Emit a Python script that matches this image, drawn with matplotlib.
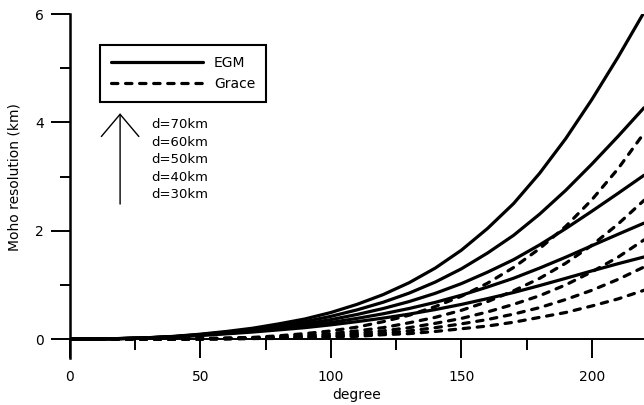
import numpy as np
import matplotlib
matplotlib.use('Agg')
import matplotlib.pyplot as plt

plt.rcParams['font.family'] = ['DejaVu Sans']

# spherical harmonic degree (x axis)
degree = [0, 10, 20, 30, 40, 50, 60, 70, 80, 90, 100, 110, 120, 130, 140,
          150, 160, 170, 180, 190, 200, 210, 220]

# EGM curves (solid), Moho resolution in km, depth 70..30 km
egm_70 = [0, 0.00, 0.01, 0.025, 0.05, 0.09, 0.14, 0.20, 0.28, 0.37, 0.49, 0.64,
          0.82, 1.04, 1.31, 1.64, 2.04, 2.50, 3.06, 3.70, 4.42, 5.20, 6.03]
egm_60 = [0, 0.00, 0.01, 0.024, 0.047, 0.083, 0.127, 0.179, 0.247, 0.321, 0.419,
          0.538, 0.679, 0.848, 1.052, 1.296, 1.587, 1.914, 2.306, 2.745, 3.229,
          3.739, 4.269]
egm_50 = [0, 0.00, 0.009, 0.023, 0.044, 0.077, 0.116, 0.161, 0.218, 0.279, 0.358,
          0.453, 0.563, 0.692, 0.844, 1.023, 1.234, 1.465, 1.738, 2.039, 2.359,
          2.688, 3.023]
egm_40 = [0, 0.00, 0.009, 0.022, 0.041, 0.071, 0.106, 0.144, 0.192, 0.242, 0.306,
          0.381, 0.466, 0.564, 0.677, 0.809, 0.960, 1.122, 1.310, 1.511, 1.723,
          1.933, 2.140]
egm_30 = [0, 0.00, 0.009, 0.021, 0.039, 0.066, 0.096, 0.129, 0.169, 0.210, 0.262,
          0.321, 0.386, 0.460, 0.544, 0.639, 0.746, 0.859, 0.987, 1.121, 1.258,
          1.390, 1.515]

# Grace curves (dashed)
grace_70 = [0, 0, 0, 0, 0, 0.01, 0.02, 0.03, 0.06, 0.10, 0.15, 0.22, 0.32, 0.44,
            0.60, 0.79, 1.03, 1.32, 1.67, 2.08, 2.57, 3.14, 3.80]
grace_60 = [0, 0, 0, 0, 0, 0.01, 0.01, 0.02, 0.04, 0.07, 0.10, 0.15, 0.21, 0.30,
            0.40, 0.53, 0.69, 0.89, 1.12, 1.40, 1.73, 2.12, 2.56]
grace_50 = [0, 0, 0, 0, 0, 0, 0.01, 0.02, 0.03, 0.05, 0.07, 0.11, 0.15, 0.21,
            0.29, 0.38, 0.50, 0.64, 0.80, 1.00, 1.24, 1.51, 1.83]
grace_40 = [0, 0, 0, 0, 0, 0, 0.01, 0.01, 0.02, 0.03, 0.05, 0.08, 0.11, 0.15,
            0.21, 0.28, 0.36, 0.46, 0.58, 0.73, 0.90, 1.10, 1.33]
grace_30 = [0, 0, 0, 0, 0, 0, 0, 0.01, 0.01, 0.02, 0.04, 0.05, 0.08, 0.10,
            0.14, 0.19, 0.24, 0.31, 0.40, 0.49, 0.61, 0.74, 0.90]

depth_labels = ['d=70km', 'd=60km', 'd=50km', 'd=40km', 'd=30km']

fig = plt.figure(figsize=(6.44, 4.05), dpi=100)
ax = fig.add_axes([70 / 644, 1 - 358 / 405, 574 / 644, 344 / 405])

lw = 2.3
egm_lines = []
for vals in [egm_70, egm_60, egm_50, egm_40, egm_30]:
    ln, = ax.plot(degree, vals, color='black', linewidth=lw, solid_capstyle='round')
    egm_lines.append(ln)
grace_lines = []
for vals in [grace_70, grace_60, grace_50, grace_40, grace_30]:
    ln, = ax.plot(degree, vals, color='black', linewidth=lw, linestyle=(0, (2.0, 2.4)),
                  dash_capstyle='round')
    grace_lines.append(ln)

ax.set_xlim(0, 220)
ax.set_ylim(-0.35, 6)

# axes look: x axis sits on y=0, left axis runs a bit below it
for s in ['top', 'right']:
    ax.spines[s].set_visible(False)
ax.spines['bottom'].set_position(('data', 0))
ax.spines['left'].set_linewidth(1.8)
ax.spines['bottom'].set_linewidth(1.4)

ax.set_xticks([0, 50, 100, 150, 200])
ax.set_xticks([25, 75, 125, 175], minor=True)
ax.set_yticks([0, 2, 4, 6])
ax.set_yticks([1, 3, 5], minor=True)
ax.tick_params(axis='x', which='major', direction='out', length=13.5, width=1.4,
               pad=9, labelsize=10)
ax.tick_params(axis='x', which='minor', direction='out', length=8, width=1.4)
ax.tick_params(axis='y', which='major', direction='out', length=14, width=1.4,
               pad=5, labelsize=10)
ax.tick_params(axis='y', which='minor', direction='out', length=7, width=1.4)

ax.set_xlabel('degree', fontsize=10)
ax.set_ylabel('Moho resolution (km)', fontsize=10)
ax.xaxis.set_label_coords(0.5, -0.088)
ax.yaxis.set_label_coords(-0.084, 0.526)

leg = ax.legend([egm_lines[0], grace_lines[0]], ['EGM', 'Grace'], loc='upper left',
                bbox_to_anchor=(30 / 574, (358 - 45) / 344), borderaxespad=0,
                fancybox=False, edgecolor='black', framealpha=1, fontsize=10,
                handlelength=6.6, handletextpad=0.8, borderpad=0.8,
                labelspacing=0.5)
leg.get_frame().set_linewidth(1.5)

# arrow for increasing depth
ax.annotate('', xy=(19.2, 4.22), xytext=(19.2, 2.44),
            arrowprops=dict(arrowstyle='->,head_length=1.6,head_width=1.35',
                            color='black', lw=1.0, mutation_scale=10))
for i, lab in enumerate(depth_labels):
    ax.text(31, 3.96 - i * 0.325, lab, fontsize=9.5, va='center', ha='left')

fig.savefig('out.png', dpi=100)
